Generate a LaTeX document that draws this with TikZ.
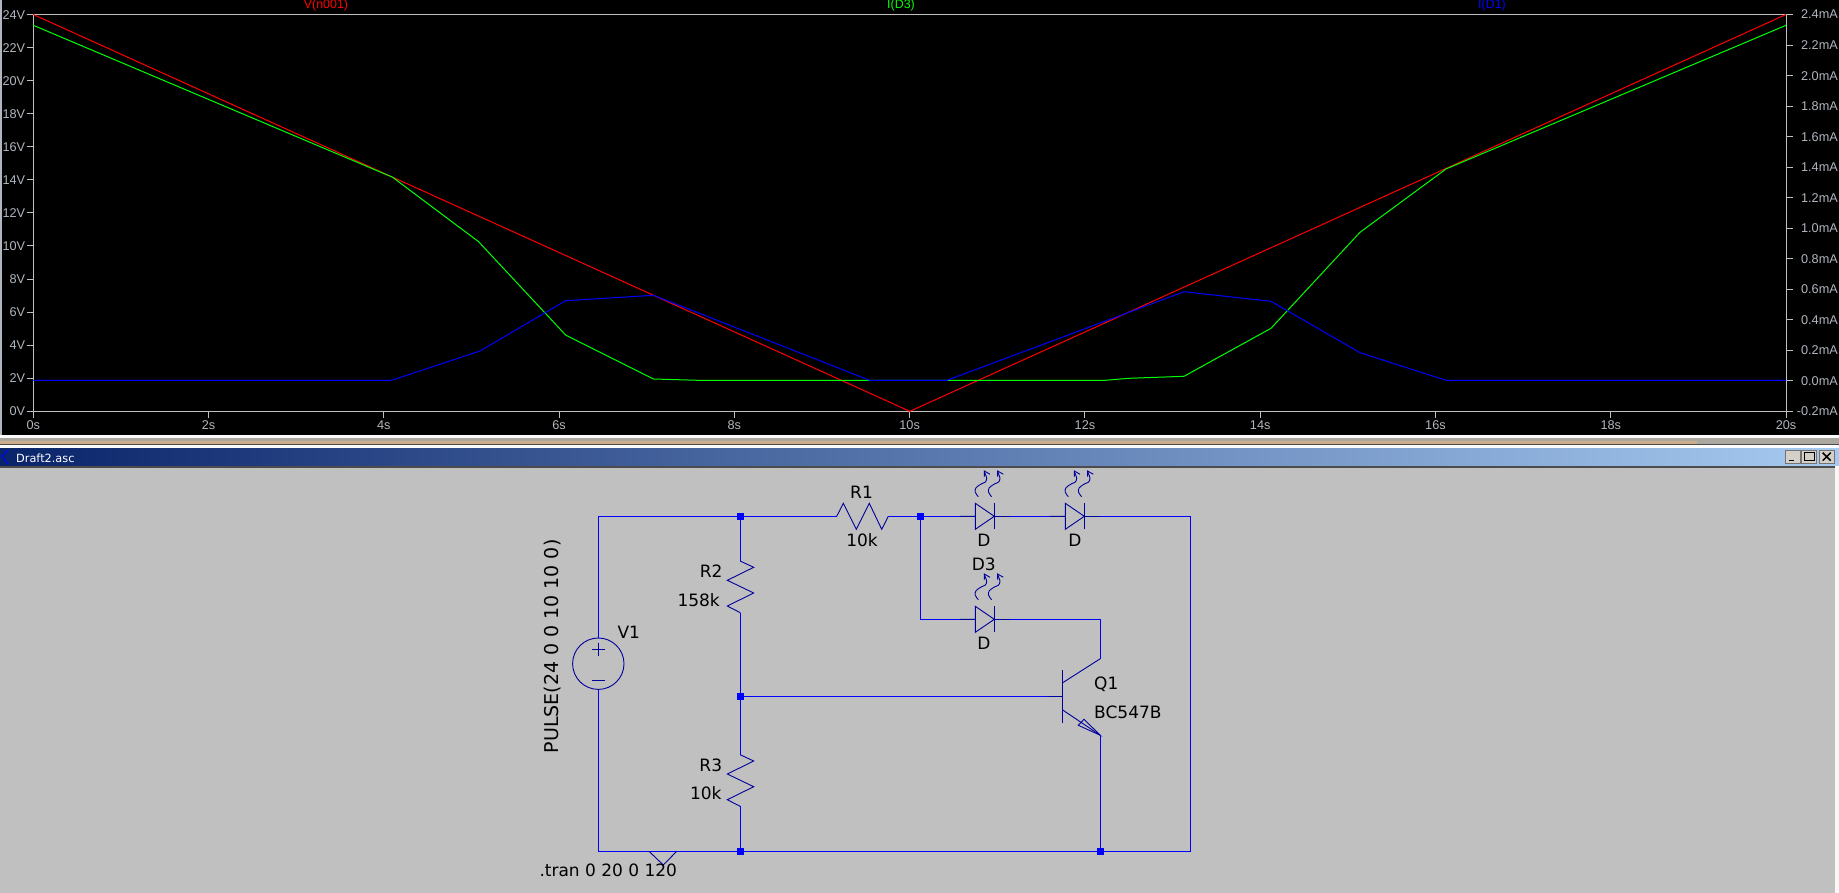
\documentclass[tikz,border=0pt]{standalone}
\usepackage{fontspec}
\newfontfamily\schemfont{DejaVu Sans}
\newfontfamily\plotfont{Liberation Sans}
\definecolor{axisgrey}{HTML}{C0C0C0}
\definecolor{ticklabel}{HTML}{B0B6BE}
\definecolor{wireblue}{HTML}{0000FF}
\definecolor{partblue}{HTML}{00009C}
\definecolor{sheetgrey}{HTML}{C0C0C0}
\definecolor{barleft}{HTML}{0A246A}
\definecolor{barright}{HTML}{A6CAF0}
\definecolor{btnface}{HTML}{D4D0C8}
\tikzset{
	wire/.style={draw=wireblue, line width=1.3pt},
	part/.style={draw=partblue, line width=0.9pt},
	junc/.style={rectangle, fill=wireblue, inner sep=0pt, minimum size=7.2pt},
	schemtext/.style={inner sep=0pt, text height=12.4pt, text depth=0pt, text=black, font=\schemfont\fontsize{17}{20}\selectfont},
	axislabel/.style={inner sep=0pt, text height=9pt, text depth=0pt, text=ticklabel, font=\plotfont\fontsize{12.7}{15}\selectfont},
	tracelabel/.style={anchor=base, inner sep=0pt, font=\plotfont\fontsize{12.4}{14}\selectfont},
	trace/.style={line width=1pt, line join=round},
	winbtn/.style={rectangle, fill=btnface, draw=black!55, line width=0.8pt, inner sep=0pt, minimum width=15pt, minimum height=13.5pt},
	pics/resh/.style={code={
		\coordinate (-l) at (-25.8,0);
		\coordinate (-r) at (25.8,0);
		\draw[part] (-l) -- (-19.2,-13) -- (-6.2,13) -- (6.8,-13) -- (19.2,13) -- (-r);
	}},
	pics/resv/.style={code={
		\coordinate (-t) at (0,-25.8);
		\coordinate (-b) at (0,25.8);
		\draw[part] (-t) -- (13.4,-19.6) -- (-13,-6.6) -- (13.4,6.1) -- (-13,19.1) -- (-b);
	}},
	pics/ledsym/.style={code={
		\coordinate (-a) at (-24.8,0);
		\coordinate (-k) at (25.2,0);
		\draw[part] (-a) -- (-9.5,0) (-9.5,-13) -- (-9.5,13) -- (9.5,0) -- cycle;
		\draw[part] (9.5,-13) -- (9.5,13) (9.5,0) -- (-k);
		\foreach \dx in {0,13.3} {
			\draw[part, shift={(\dx,0)}] plot[smooth, tension=0.6] coordinates {(-6.5,-19.6) (-9.5,-24) (-8.8,-28.6) (-3.1,-32.6) (0.2,-34) (1.9,-38) (-0.5,-44.6)};
			\draw[part, shift={(\dx,0)}] (-0.5,-39.6) -- (-0.5,-45.3) -- (5.2,-42);
		}
	}},
	pics/npnsym/.style={code={
		\coordinate (-b) at (-13,0);
		\coordinate (-c) at (38,-37.6);
		\coordinate (-e) at (38,39);
		\draw[part] (0,-26.3) -- (0,26.4) (-b) -- (0,0);
		\draw[part] (0.4,-13.6) -- (-c) (0.4,13.7) -- (-e);
		\draw[part] (-e) -- (16,29) -- (21.7,23) -- cycle;
	}},
}

\begin{document}
\begin{tikzpicture}[x=1pt,y=-1pt]
	\useasboundingbox (0,0) rectangle (1839,893);
	\fill[black] (0,0) rectangle (1839,435);
	\fill[ticklabel] (0,0) rectangle (2.3,435);
	\fill[white!94!btnface] (0,435) rectangle (1839,438);
	\fill[btnface!80!black] (0,438) rectangle (1839,444);
	\fill[btnface!55!brown] (0,441) rectangle (1697,443.5);
	\fill[black!70] (0,443.5) rectangle (1839,445);
	\fill[white!94!btnface] (0,445) rectangle (1839,448);
	\shade[left color=barleft, right color=barright] (0,448) rectangle (1839,466);
	\fill[sheetgrey] (0,466) rectangle (1839,893);
	\fill[black!70] (0,466) rectangle (1835,468);
	\fill[white!85!btnface] (1835,466) rectangle (1839,893);

	\draw[wireblue, line width=0.9pt] (0,456) -- (3,456) (8,450) -- (3,456) -- (3,458) -- (8,464);
	\node (wintitle) [anchor=west, inner sep=0pt, text=white, font=\schemfont\fontsize{11.3}{14}\selectfont] at (16,458) {Draft2.asc};
	\node (btnmin) [winbtn] at (1792.5,456.7) {};
	\node (btnmax) [winbtn] at (1809,456.7) {};
	\node (btnclose) [winbtn] at (1826.7,456.7) {};
	\draw[black, line width=1.4pt] ([xshift=-4pt,yshift=-4pt]btnmin.center) -- ([xshift=1pt,yshift=-4pt]btnmin.center);
	\draw[black, line width=1pt] ([xshift=-5pt,yshift=-4pt]btnmax.center) rectangle ([xshift=5pt,yshift=4pt]btnmax.center);
	\draw[black, line width=1.5pt] ([xshift=-4pt,yshift=-4pt]btnclose.center) -- ([xshift=4pt,yshift=4pt]btnclose.center) ([xshift=-4pt,yshift=4pt]btnclose.center) -- ([xshift=4pt,yshift=-4pt]btnclose.center);

	\draw[axisgrey, line width=1pt] (33.3,14.5) rectangle (1786,411.3);
	\foreach \ylab in {0,2,...,24} {
		\draw[axisgrey, line width=1pt] (26.5,{411.3-16.53*\ylab}) -- (33.3,{411.3-16.53*\ylab});
		\node [axislabel, anchor=east] at (25.3,{411.3-16.53*\ylab}) {\ylab V};
	}
	\foreach \xlab in {0,2,...,20} {
		\draw[axisgrey, line width=1pt] ({33.3+87.635*\xlab},411.3) -- ({33.3+87.635*\xlab},417.5);
		\node [axislabel] at ({33.3+87.635*\xlab},425) {\xlab s};
	}
	\foreach \ilab [count=\idx from 0] in {-0.2,0.0,0.2,0.4,0.6,0.8,1.0,1.2,1.4,1.6,1.8,2.0,2.2,2.4} {
		\draw[axisgrey, line width=1pt] (1786,{411.3-30.523*\idx}) -- (1793,{411.3-30.523*\idx});
		\node [axislabel, anchor=east] at (1838,{411.3-30.523*\idx}) {\ilab mA};
	}
	\node (vlabel) [tracelabel, text=red] at (326,8.3) {V(n001)};
	\node (ilabeld3) [tracelabel, text=green] at (901,8.3) {I(D3)};
	\node (ilabeld1) [tracelabel, text=blue] at (1492,8.3) {I(D1)};

	\draw[trace, red] (33.3,14.5) -- (909.8,411.3) -- (1786,14.5);
	\draw[trace, green] (33.3,25.3) -- (392.7,177.3) -- (478.6,241.7) -- (565.6,335) -- (653.6,379) -- (698,380.3) -- (1105,380.3) -- (1129,378.3) -- (1184,376.3) -- (1271,328.3) -- (1360,232.3) -- (1446,169) -- (1786,25.3);
	\draw[trace, blue] (33.3,380.3) -- (391.5,380.3) -- (480,351) -- (565.6,300.7) -- (653.6,295.3) -- (869.6,380.3) -- (946.9,380.3) -- (1184,291.7) -- (1271,301.3) -- (1360,352.7) -- (1446,380.3) -- (1786,380.3);

	\node (v1) [circle, part, inner sep=0pt, minimum size=51.4pt] at (598.3,663.7) {};
	\draw[part] (591.8,649.3) -- (604.8,649.3) (598.3,642.8) -- (598.3,655.8) (591.8,680.3) -- (604.8,680.3);
	\node (jr2) [junc] at (740.3,516.3) {};
	\node (jbase) [junc] at (740.3,696.3) {};
	\node (jr3) [junc] at (740.3,851.3) {};
	\node (jled) [junc] at (920.3,516.3) {};
	\node (jemit) [junc] at (1100.3,851.3) {};
	\coordinate (ctr) at (1190.3,516.3);
	\coordinate (cbr) at (1190.3,851.3);
	\coordinate (g1) at (649,851.3);
	\coordinate (g2) at (663.3,865);
	\coordinate (g3) at (676.7,851.3);
	\pic (r1) at (862.5,516.3) {resh};
	\pic (r2) at (740.3,586.9) {resv};
	\pic (r3) at (740.3,780.6) {resv};
	\pic (d1) at (984.8,516.3) {ledsym};
	\pic (d2) at (1074.8,516.3) {ledsym};
	\pic (d3) at (984.8,619.3) {ledsym};
	\pic (q1) at (1062.3,696.3) {npnsym};

	\draw[wire] (v1.north) |- (jr2);
	\draw[wire] (jr2) -- (r1-l);
	\draw[wire] (r1-r) -- (jled);
	\draw[wire] (jled) -- (d1-a);
	\draw[wire] (d1-k) -- (d2-a);
	\draw[wire] (d2-k) -- (ctr) -- (cbr) -- (jemit);
	\draw[wire] (jled) |- (d3-a);
	\draw[wire] (d3-k) -| (q1-c);
	\draw[wire] (jr2) -- (r2-t);
	\draw[wire] (r2-b) -- (jbase);
	\draw[wire] (jbase) -- (r3-t);
	\draw[wire] (r3-b) -- (jr3);
	\draw[wire] (jbase) -- (q1-b);
	\draw[wire] (q1-e) -- (jemit);
	\draw[wire] (v1.south) |- (jr3);
	\draw[wire] (jr3) -- (jemit);
	\draw[part] (g1) -- (g2) -- (g3);

	\node (r1name) [schemtext] at (861.5,492.7) {R1};
	\node (r1val) [schemtext] at (862,540.7) {10k};
	\node (r2name) [schemtext, anchor=east] at (722.7,571.7) {R2};
	\node (r2val) [schemtext, anchor=east] at (720,600.7) {158k};
	\node (r3name) [schemtext, anchor=east] at (722.3,765) {R3};
	\node (r3val) [schemtext, anchor=east] at (721.7,793) {10k};
	\node (d1val) [schemtext] at (984,540.7) {D};
	\node (d2val) [schemtext] at (1075,540.7) {D};
	\node (d3name) [schemtext] at (983.7,564) {D3};
	\node (d3val) [schemtext] at (984,643.3) {D};
	\node (q1name) [schemtext, anchor=west] at (1094,683) {Q1};
	\node (q1val) [schemtext, anchor=west] at (1094,712.7) {BC547B};
	\node (v1name) [schemtext, anchor=west] at (617.3,632.7) {V1};
	\node (v1val) [schemtext, anchor=west, rotate=90, font=\schemfont\fontsize{19}{22}\selectfont] at (552.5,753.5) {PULSE(24 0 0 10 10 0)};
	\node (trancmd) [schemtext, anchor=west] at (539.3,870.7) {.tran 0 20 0 120};
\end{tikzpicture}
\end{document}
